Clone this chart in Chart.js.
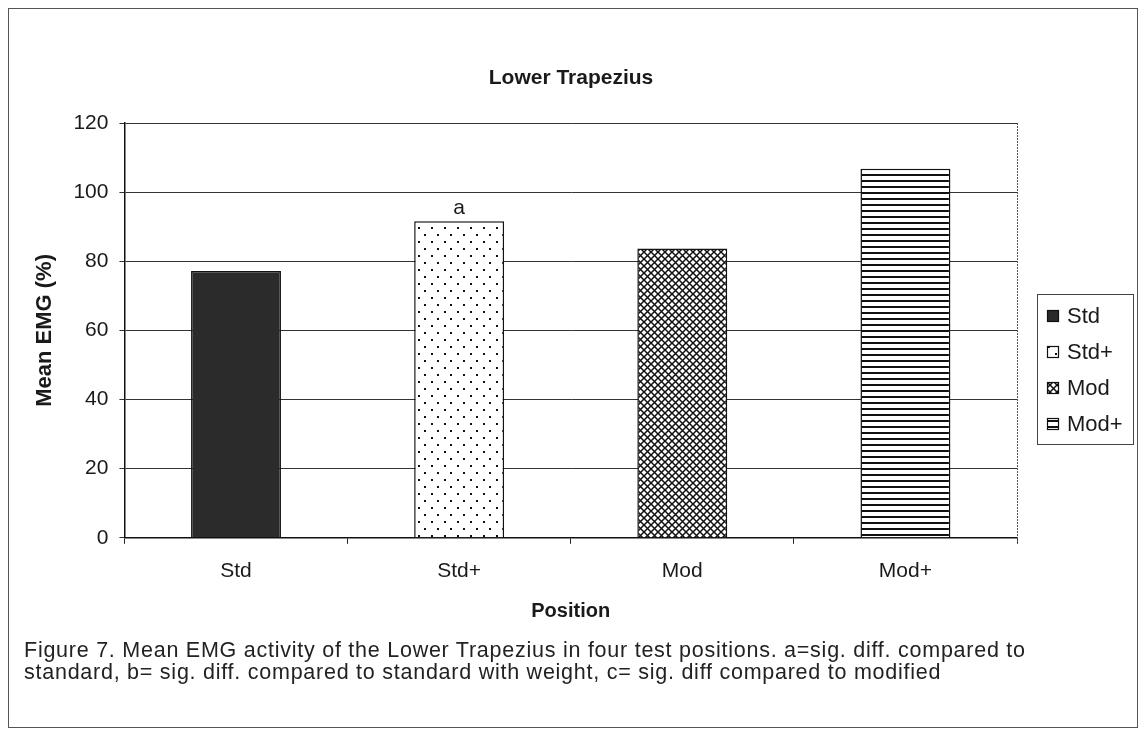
<!DOCTYPE html>
<html>
<head>
<meta charset="utf-8">
<script src="https://cdn.jsdelivr.net/npm/chart.js@4.4.1/dist/chart.umd.min.js"></script>
<style>
  body { margin: 0; background: #fff; }
  #wrap { position: relative; width: 1142px; height: 730px; }
  #frame { position: absolute; left: 8px; top: 8px; width: 1128px; height: 718px; border: 1px solid #555; }
  canvas { position: absolute; left: 0; top: 0; }
  #caption { position: absolute; left: 24px; top: 639px; font: 21.5px "Liberation Sans", Arial, sans-serif;
             letter-spacing: 0.75px; line-height: 22px; color: #222; white-space: nowrap; }
</style>
</head>
<body>
<div id="wrap">
  <div id="frame"></div>
  <canvas id="chart" width="1142" height="730"></canvas>
  <div id="caption">Figure 7. Mean EMG activity of the Lower Trapezius in four test positions. a=sig. diff. compared to<br>standard, b= sig. diff. compared to standard with weight, c= sig. diff compared to modified</div>
</div>
<script>
const positions = ['Std', 'Std+', 'Mod', 'Mod+'];
const meanEmg = [77.2, 91.6, 83.7, 106.8];
const sigNotes = ['', 'a', '', ''];
const yTicks = [0, 20, 40, 60, 80, 100, 120];
const chartTitle = 'Lower Trapezius';

// motifs de remplissage (comme Excel noir et blanc)
function makePattern(w, h, draw) {
  const c = document.createElement('canvas');
  c.width = w; c.height = h;
  const g = c.getContext('2d');
  g.fillStyle = '#fff';
  g.fillRect(0, 0, w, h);
  draw(g);
  return document.getElementById('chart').getContext('2d').createPattern(c, 'repeat');
}

const solidDark = '#2b2b2b';
const dots = makePattern(13, 14, g => {
  g.fillStyle = '#111';
  g.fillRect(2, 3, 2, 2);
  g.fillRect(8, 10, 2, 2);
});
const crossHatch = makePattern(7, 7, g => {
  g.strokeStyle = '#111';
  g.lineWidth = 1.5;
  g.beginPath();
  g.moveTo(-1, -1); g.lineTo(8, 8);
  g.moveTo(8, -1); g.lineTo(-1, 8);
  g.stroke();
});
const stripes = makePattern(6, 6, g => {
  g.fillStyle = '#111';
  g.fillRect(0, 0, 6, 2);
});
const fills = [solidDark, dots, crossHatch, stripes];

const FONT = '"Liberation Sans", Arial, sans-serif';
Chart.defaults.font.family = FONT;
Chart.defaults.color = '#1a1a1a';

// titre centré sur toute la figure
const figTitle = {
  id: 'figTitle',
  afterDraw(chart) {
    const { ctx } = chart;
    ctx.save();
    ctx.font = 'bold 21px ' + FONT;
    ctx.fillStyle = '#1a1a1a';
    ctx.textAlign = 'center';
    ctx.textBaseline = 'middle';
    ctx.fillText(chartTitle, chart.width / 2, 78);
    ctx.restore();
  }
};

// bordure droite pointillée de la zone de tracé
const plotBorder = {
  id: 'plotBorder',
  afterDraw(chart) {
    const { ctx, chartArea } = chart;
    ctx.save();
    ctx.strokeStyle = '#555';
    ctx.lineWidth = 1;
    ctx.setLineDash([2, 1]);
    ctx.beginPath();
    ctx.moveTo(chartArea.right + 0.5, chartArea.top);
    ctx.lineTo(chartArea.right + 0.5, chartArea.bottom + 6);
    ctx.stroke();
    ctx.restore();
  }
};

// lettres de significativité au-dessus des barres
const barNotes = {
  id: 'barNotes',
  afterDatasetsDraw(chart) {
    const { ctx } = chart;
    const meta = chart.getDatasetMeta(0);
    ctx.save();
    ctx.font = '21px ' + FONT;
    ctx.fillStyle = '#1a1a1a';
    ctx.textAlign = 'center';
    ctx.textBaseline = 'bottom';
    meta.data.forEach((bar, i) => {
      if (sigNotes[i]) ctx.fillText(sigNotes[i], bar.x, bar.y - 2);
    });
    ctx.restore();
  }
};

// légende encadrée à droite
const sideLegend = {
  id: 'sideLegend',
  afterDraw(chart) {
    const { ctx } = chart;
    const x0 = 1037, y0 = 294, w = 96, h = 150;
    ctx.save();
    ctx.strokeStyle = '#444';
    ctx.lineWidth = 1;
    ctx.strokeRect(x0 + 0.5, y0 + 0.5, w, h);
    ctx.font = '22px ' + FONT;
    ctx.textBaseline = 'middle';
    positions.forEach((name, i) => {
      const cy = y0 + 22 + i * 36;
      ctx.fillStyle = fills[i];
      ctx.fillRect(x0 + 10, cy - 6, 12, 12);
      ctx.strokeStyle = '#111';
      ctx.lineWidth = 1.2;
      ctx.strokeRect(x0 + 10.5, cy - 5.5, 11, 11);
      ctx.fillStyle = '#1a1a1a';
      ctx.fillText(name, x0 + 30, cy + 1);
    });
    ctx.restore();
  }
};

new Chart(document.getElementById('chart'), {
  type: 'bar',
  data: {
    labels: positions,
    datasets: [{
      data: meanEmg,
      backgroundColor: fills,
      borderColor: '#111',
      borderWidth: 1.5,
      categoryPercentage: 1,
      barPercentage: 0.403
    }]
  },
  options: {
    responsive: false,
    animation: false,
    layout: { padding: { left: 10, top: 123, right: 125, bottom: 107 } },
    plugins: {
      legend: { display: false },
      tooltip: { enabled: false },
      title: { display: false }
    },
    scales: {
      x: {
        grid: { display: true, drawOnChartArea: false, drawTicks: true, tickLength: 6, color: '#222', offset: true },
        border: { display: true, color: '#111', width: 1.5 },
        ticks: { font: { size: 21 }, padding: 15, color: '#1a1a1a' },
        title: { display: true, text: 'Position', font: { size: 20, weight: 'bold' }, padding: { top: 0, bottom: 0 }, color: '#1a1a1a' }
      },
      y: {
        min: 0,
        max: 120,
        afterBuildTicks(scale) { scale.ticks = yTicks.map(v => ({ value: v })); },
        grid: { color: '#333', lineWidth: 1, tickLength: 5 },
        border: { display: true, color: '#111', width: 1.5 },
        ticks: { font: { size: 21 }, padding: 11, color: '#1a1a1a' },
        title: { display: true, text: 'Mean EMG (%)', font: { size: 22, weight: 'bold' }, padding: { top: 22, bottom: 4 }, color: '#1a1a1a' }
      }
    }
  },
  plugins: [figTitle, plotBorder, barNotes, sideLegend]
});
</script>
</body>
</html>
